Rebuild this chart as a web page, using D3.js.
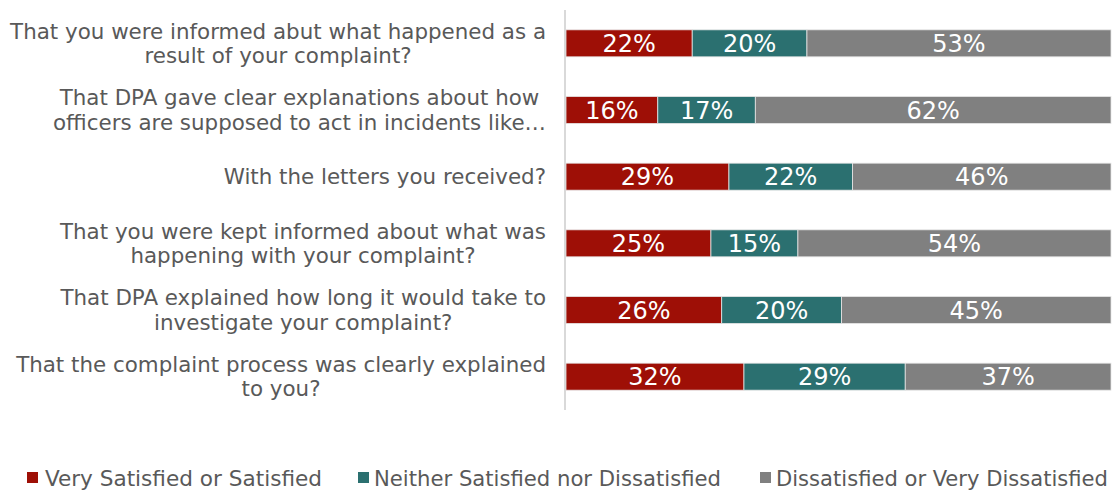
<!DOCTYPE html>
<html>
<head>
<meta charset="utf-8">
<script src="https://cdn.jsdelivr.net/npm/d3@7"></script>
<style>
  html, body { margin: 0; padding: 0; background: #fff; }
  svg { display: block; font-family: "DejaVu Sans", Verdana, sans-serif; }
</style>
</head>
<body>
<svg id="chart" width="1115" height="491"></svg>
<script>
// Survey questions (each entry is a list of wrapped lines)
const questions = [
  ["That you were informed abut what happened as a", "result of your complaint?"],
  ["That DPA gave clear explanations about how", "officers are supposed to act in incidents like…"],
  ["With the letters you received?"],
  ["That you were kept informed about what was", "happening with your complaint?"],
  ["That DPA explained how long it would take to", "investigate your complaint?"],
  ["That the complaint process was clearly explained", "to you?"]
];
const seriesNames = [
  "Very Satisfied or Satisfied",
  "Neither Satisfied nor Dissatisfied",
  "Dissatisfied or Very Dissatisfied"
];
// Percentages per question, in question order
const satisfied   = [22, 16, 29, 25, 26, 32];
const neither     = [20, 17, 22, 15, 20, 29];
const dissatisfied = [53, 62, 46, 54, 45, 37];

const colors = ["#9E0F06", "#2B7070", "#808080"];

const rows = questions.map((q, i) => ({
  key: i,
  s0: satisfied[i],
  s1: neither[i],
  s2: dissatisfied[i]
}));

const svg = d3.select("#chart");

const y = d3.scaleBand()
  .domain(rows.map(d => d.key))
  .range([10, 410])
  .paddingInner(0.595)
  .paddingOuter(0.2975);

const x = d3.scaleLinear().domain([0, 1]).range([566, 1111]);

const stack = d3.stack()
  .keys(["s0", "s1", "s2"])
  .offset(d3.stackOffsetExpand);
const layers = stack(rows);

// Stacked segments
const g = svg.append("g");
layers.forEach((layer, li) => {
  const lg = g.append("g").attr("fill", colors[li]);
  lg.selectAll("rect")
    .data(layer)
    .join("rect")
    .attr("x", d => x(d[0]))
    .attr("y", d => y(d.data.key))
    .attr("width", d => x(d[1]) - x(d[0]))
    .attr("height", y.bandwidth())
    .attr("stroke", "#e6e6e6")
    .attr("stroke-width", 0.8);
  lg.selectAll("text")
    .data(layer)
    .join("text")
    .attr("x", d => (x(d[0]) + x(d[1])) / 2)
    .attr("y", d => y(d.data.key) + y.bandwidth() / 2)
    .attr("dy", "0.36em")
    .attr("text-anchor", "middle")
    .attr("fill", "#fff")
    .attr("font-size", 24)
    .text(d => d.data[layer.key] + "%");
});

// Category axis line
svg.append("line")
  .attr("x1", 565).attr("x2", 565)
  .attr("y1", 10).attr("y2", 410)
  .attr("stroke", "#d9d9d9")
  .attr("stroke-width", 2);

// Category labels: lines centred on each other, block right-aligned
const labelRight = 546;
const lineH = 24.5;
questions.forEach((lines, i) => {
  const cy = y(i) + y.bandwidth() / 2;
  const grp = svg.append("g");
  const texts = lines.map((ln, j) => grp.append("text")
    .attr("font-size", 21.4)
    .attr("fill", "#595959")
    .attr("text-anchor", "middle")
    .attr("dy", "0.35em")
    .attr("y", cy + (j - (lines.length - 1) / 2) * lineH)
    .text(ln));
  const maxW = d3.max(texts, t => t.node().getComputedTextLength());
  texts.forEach(t => t.attr("x", labelRight - maxW / 2));
});

// Legend (condensed face)
const legendItems = [
  { sx: 27, tx: 45, w: 277 },
  { sx: 358, tx: 374, w: 347 },
  { sx: 760, tx: 776, w: 332 }
];
const lg = svg.append("g");
seriesNames.forEach((name, i) => {
  const it = legendItems[i];
  lg.append("rect")
    .attr("x", it.sx).attr("y", 472)
    .attr("width", 11).attr("height", 11)
    .attr("fill", colors[i]);
  lg.append("text")
    .attr("x", it.tx).attr("y", 478)
    .attr("dy", "0.36em")
    .attr("font-family", "'DejaVu Sans Condensed', 'DejaVu Sans', sans-serif")
    .attr("font-size", 21)
    .attr("fill", "#595959")
    .attr("textLength", it.w)
    .attr("lengthAdjust", "spacingAndGlyphs")
    .text(name);
});
</script>
</body>
</html>
